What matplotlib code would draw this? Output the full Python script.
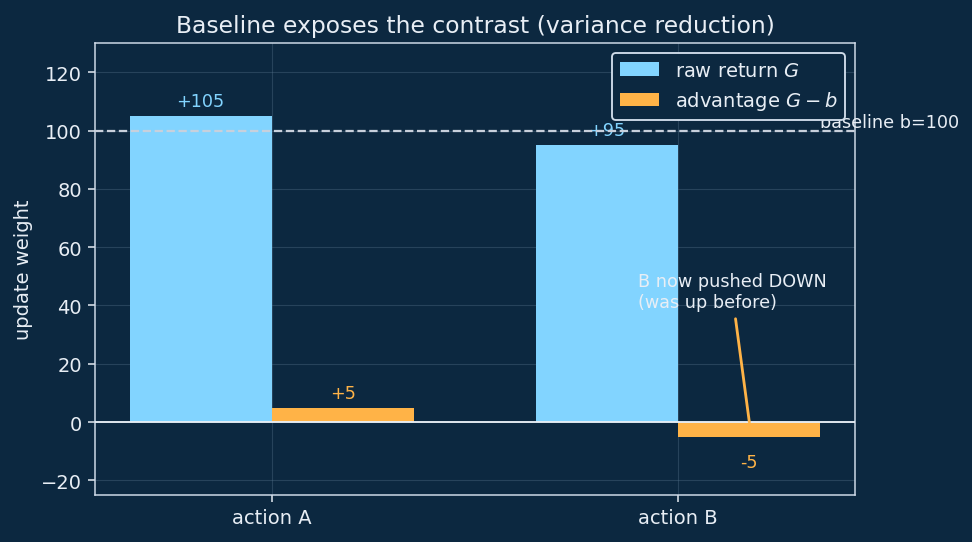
import matplotlib
matplotlib.use("Agg")
import matplotlib.pyplot as plt
import numpy as np

actions = ["action A", "action B"]
raw_return = [105, 95]
advantage = [5, -5]
baseline = 100

BG = "#0c2840"
FG = "#e8eef5"
BLUE = "#82d4ff"
ORANGE = "#ffb347"
SPINE = "#d0dcea"

plt.rcParams["font.family"] = ["DejaVu Sans"]
fig, ax = plt.subplots(figsize=(7.2, 4.022), dpi=135)
fig.patch.set_facecolor(BG)
ax.set_facecolor(BG)

x = np.arange(len(actions))
w = 0.35
b1 = ax.bar(x - w / 2, raw_return, w, color=BLUE, label="raw return $G$", zorder=2)
b2 = ax.bar(x + w / 2, advantage, w, color=ORANGE, label="advantage $G-b$", zorder=2)

for xi, v in zip(x - w / 2, raw_return):
    ax.text(xi, v + 2, f"{v:+d}", ha="center", va="bottom", color=BLUE, fontsize=9.4, zorder=3)
for xi, v in zip(x + w / 2, advantage):
    if v >= 0:
        ax.text(xi, v + 2, f"{v:+d}", ha="center", va="bottom", color=ORANGE, fontsize=9.4, zorder=3)
    else:
        ax.text(xi, v - 5.5, f"{v:d}", ha="center", va="top", color=ORANGE, fontsize=9.4, zorder=3)

ax.axhline(baseline, color="#c8d0dc", ls="--", lw=1.2, zorder=3)
ax.text(1.35, baseline + 3, f"baseline b={baseline}", color=FG, fontsize=9.4, ha="left", va="center", zorder=4)
ax.axhline(0, color=FG, lw=1.0, zorder=3)

ax.annotate("B now pushed DOWN\n(was up before)", xy=(1 + w / 2, 0), xytext=(0.90, 38),
            ha="left", va="bottom", color=FG, fontsize=9.4,
            arrowprops=dict(arrowstyle="-", color=ORANGE, lw=1.5, shrinkB=0), zorder=4)

ax.set_xticks(x)
ax.set_xticklabels(actions)
ax.set_ylim(-25, 130)
ax.set_ylabel("update weight", color=FG, fontsize=10.4)
ax.set_title("Baseline exposes the contrast (variance reduction)", color=FG, fontsize=12.5)
ax.grid(True, color="#5a7890", alpha=0.35, lw=0.6, zorder=0)
ax.set_axisbelow(True)
ax.tick_params(colors=FG, labelsize=10.4)
for sp in ax.spines.values():
    sp.set_color(SPINE)

leg = ax.legend(loc="upper right", facecolor=BG, edgecolor=SPINE, labelcolor=FG, fontsize=10.4, framealpha=1)

fig.subplots_adjust(left=95 / 972, right=855 / 972, top=1 - 44 / 543, bottom=1 - 496 / 543)
fig.savefig("out.png", dpi=135, facecolor=BG)
